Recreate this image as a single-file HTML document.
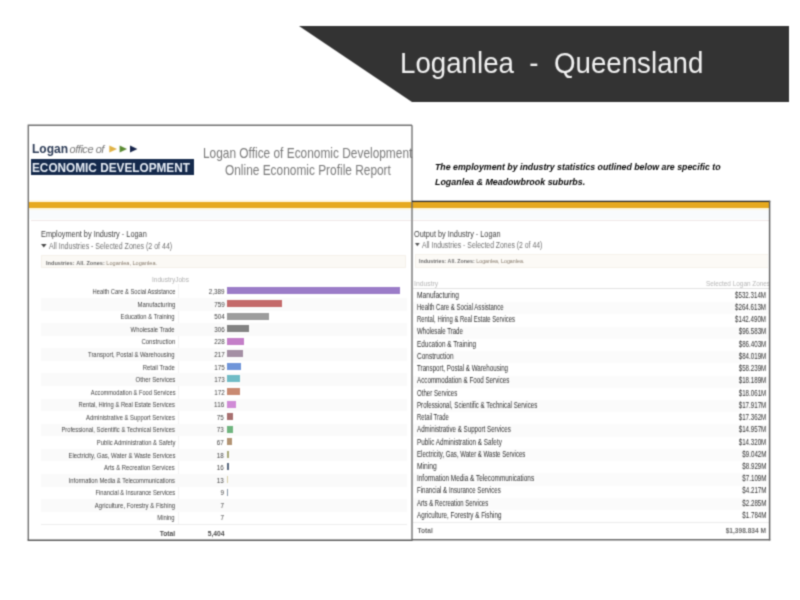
<!DOCTYPE html><html><head><meta charset="utf-8"><title>Loganlea - Queensland</title><style>
*{margin:0;padding:0;box-sizing:border-box}
html,body{width:800px;height:600px;overflow:hidden;background:#fff}
body{position:relative;font-family:"Liberation Sans", sans-serif}
#w{position:absolute;left:0;top:0;width:800px;height:600px;background:#fff;filter:url(#bl)}
.a{position:absolute;white-space:pre;line-height:1}
.r{text-align:right}
.ll{font-size:7px;color:#3f3f3f;transform-origin:100% 50%}
.ln{font-size:7px;color:#404040;transform:scaleX(0.9);transform-origin:100% 50%}
.rl{font-size:8.6px;color:#2c2c2c;transform-origin:0 50%}
.rv{font-size:8.6px;color:#2e2e2e;transform-origin:100% 50%}
</style></head><body><svg width="0" height="0" style="position:absolute"><filter id="bl" x="0" y="0" width="100%" height="100%" color-interpolation-filters="sRGB"><feConvolveMatrix order="3" kernelMatrix="0.09 0.3 0.09 0.3 1 0.3 0.09 0.3 0.09" edgeMode="duplicate" preserveAlpha="true"/></filter></svg><div id="w">
<svg class="a" style="left:0;top:0" width="800" height="600" viewBox="0 0 800 600"><polygon points="299,26 789,26 789,102 412,102" fill="#333333"/></svg>
<div class="a" style="left:400px;top:48.8px;font-size:29px;color:#f2f2f2;transform:scaleX(0.955);transform-origin:0 0">Loganlea  -  Queensland</div>
<div class="a" style="left:32px;top:142.5px;font-size:12px;font-weight:bold;color:#2b3a55">Logan</div>
<div class="a" style="left:69.5px;top:143.5px;font-size:11px;font-style:italic;color:#7a7a7a;letter-spacing:-0.45px">office of</div>
<svg class="a" style="left:105px;top:143px" width="40" height="12" viewBox="0 0 40 12"><polygon points="4.3,2.6 12,6 4.3,9.4" fill="#e0b245"/><polygon points="14.6,2.6 22,6 14.6,9.4" fill="#5a8a32"/><polygon points="25,2.6 32.4,6 25,9.4" fill="#16244a"/></svg>
<div class="a" style="left:30.5px;top:158.8px;width:163px;height:16.6px;background:#152a4c"></div>
<div class="a" style="left:32px;top:161.8px;font-size:12.4px;font-weight:bold;color:#e8eef6;transform:scaleX(0.952);transform-origin:0 0">ECONOMIC DEVELOPMENT</div>
<div class="a" style="left:203px;top:146px;font-size:14.5px;color:#7a7a7a;transform:scaleX(0.82);transform-origin:0 0">Logan Office of Economic Development</div>
<div class="a" style="left:225px;top:163.3px;font-size:14.5px;color:#7a7a7a;transform:scaleX(0.82);transform-origin:0 0">Online Economic Profile Report</div>
<div class="a" style="left:434.6px;top:162.4px;font-size:9.5px;font-weight:bold;font-style:italic;color:#050505;transform:scaleX(0.925);transform-origin:0 0">The employment by industry statistics outlined below are specific to</div>
<div class="a" style="left:434.6px;top:177.3px;font-size:9.5px;font-weight:bold;font-style:italic;color:#050505;transform:scaleX(0.936);transform-origin:0 0">Loganlea &amp; Meadowbrook suburbs.</div>
<div class="a" style="left:29px;top:202px;width:740.5px;height:6px;background:#e6a91f"></div>
<div class="a" style="left:29px;top:208px;width:740.5px;height:2px;background:#fdf6dd"></div>
<div class="a" style="left:31px;top:219.8px;width:380px;height:1px;background:#efe7e7"></div>
<div class="a" style="left:29px;top:210px;width:740px;height:9px;background:#f9fbfd"></div>
<div class="a" style="left:29px;top:199.5px;width:383px;height:2.5px;background:#fff8e4"></div>
<div class="a" style="left:413px;top:219.8px;width:356px;height:1px;background:#efe7e7"></div>
<div class="a" style="left:40.5px;top:229.2px;font-size:9.7px;color:#404040;transform:scaleX(0.758);transform-origin:0 0">Employment by Industry - Logan</div>
<svg class="a" style="left:41.4px;top:244px" width="6" height="5"><polygon points="0,0 5.6,0 2.8,3.6" fill="#4a4a4a"/></svg>
<div class="a" style="left:48.5px;top:241.8px;font-size:9px;color:#707070;transform:scaleX(0.779);transform-origin:0 0">All Industries - Selected Zones (2 of 44)</div>
<div class="a" style="left:40.5px;top:254.5px;width:365px;height:13.8px;background:#fbf9f5;border:1px solid #f5f1ea"></div>
<div class="a" style="left:45.5px;top:261.1px;font-size:5.8px;color:#85796a;transform:scaleX(0.965);transform-origin:0 0"><b style="color:#6a6a6a">Industries:</b> <b style="color:#767676">All.</b> <b style="color:#6a6a6a">Zones:</b> Loganlea, Loganlea.</div>
<div class="a" style="left:151.7px;top:275.8px;font-size:7px;color:#b0b0b0;transform:scaleX(0.93);transform-origin:0 0">IndustryJobs</div>
<div class="a" style="left:177.5px;top:284px;width:1px;height:240px;background:#f3f3f3"></div>
<div class="a" style="left:40.5px;top:298.02px;width:366px;height:12.5px;background:#fafafa"></div>
<div class="a" style="left:40.5px;top:323.16px;width:366px;height:12.5px;background:#fafafa"></div>
<div class="a" style="left:40.5px;top:348.30px;width:366px;height:12.5px;background:#fafafa"></div>
<div class="a" style="left:40.5px;top:373.44px;width:366px;height:12.5px;background:#fafafa"></div>
<div class="a" style="left:40.5px;top:398.58px;width:366px;height:12.5px;background:#fafafa"></div>
<div class="a" style="left:40.5px;top:423.72px;width:366px;height:12.5px;background:#fafafa"></div>
<div class="a" style="left:40.5px;top:448.86px;width:366px;height:12.5px;background:#fafafa"></div>
<div class="a" style="left:40.5px;top:474.00px;width:366px;height:12.5px;background:#fafafa"></div>
<div class="a" style="left:40.5px;top:499.14px;width:366px;height:12.5px;background:#fafafa"></div>
<div class="a r ll" style="right:625px;top:288.15px;transform:scaleX(0.825)">Health Care &amp; Social Assistance</div>
<div class="a r ln" style="right:575.8px;top:288.15px">2,389</div>
<div class="a" style="left:227.3px;top:287.45px;width:172.8px;height:7px;background:#9b7cc8"></div>
<div class="a r ll" style="right:625px;top:300.72px;transform:scaleX(0.852)">Manufacturing</div>
<div class="a r ln" style="right:575.8px;top:300.72px">759</div>
<div class="a" style="left:227.3px;top:300.02px;width:55px;height:7px;background:#c46a6a"></div>
<div class="a r ll" style="right:625px;top:313.29px;transform:scaleX(0.837)">Education &amp; Training</div>
<div class="a r ln" style="right:575.8px;top:313.29px">504</div>
<div class="a" style="left:227.3px;top:312.59px;width:41.5px;height:7px;background:#9d9d9d"></div>
<div class="a r ll" style="right:625px;top:325.86px;transform:scaleX(0.836)">Wholesale Trade</div>
<div class="a r ln" style="right:575.8px;top:325.86px">306</div>
<div class="a" style="left:227.3px;top:325.16px;width:22px;height:7px;background:#838383"></div>
<div class="a r ll" style="right:625px;top:338.43px;transform:scaleX(0.863)">Construction</div>
<div class="a r ln" style="right:575.8px;top:338.43px">228</div>
<div class="a" style="left:227.3px;top:337.73px;width:16.8px;height:7px;background:#c47fc8"></div>
<div class="a r ll" style="right:625px;top:351.00px;transform:scaleX(0.844)">Transport, Postal &amp; Warehousing</div>
<div class="a r ln" style="right:575.8px;top:351.00px">217</div>
<div class="a" style="left:227.3px;top:350.30px;width:15.5px;height:7px;background:#a48fa4"></div>
<div class="a r ll" style="right:625px;top:363.57px;transform:scaleX(0.848)">Retail Trade</div>
<div class="a r ln" style="right:575.8px;top:363.57px">175</div>
<div class="a" style="left:227.3px;top:362.87px;width:13.4px;height:7px;background:#6f95d9"></div>
<div class="a r ll" style="right:625px;top:376.14px;transform:scaleX(0.858)">Other Services</div>
<div class="a r ln" style="right:575.8px;top:376.14px">173</div>
<div class="a" style="left:227.3px;top:375.44px;width:12.8px;height:7px;background:#70bcc6"></div>
<div class="a r ll" style="right:625px;top:388.71px;transform:scaleX(0.818)">Accommodation &amp; Food Services</div>
<div class="a r ln" style="right:575.8px;top:388.71px">172</div>
<div class="a" style="left:227.3px;top:388.01px;width:12.8px;height:7px;background:#c98a72"></div>
<div class="a r ll" style="right:625px;top:401.28px;transform:scaleX(0.832)">Rental, Hiring &amp; Real Estate Services</div>
<div class="a r ln" style="right:575.8px;top:401.28px">116</div>
<div class="a" style="left:227.3px;top:400.58px;width:8.6px;height:7px;background:#d08bd6"></div>
<div class="a r ll" style="right:625px;top:413.85px;transform:scaleX(0.839)">Administrative &amp; Support Services</div>
<div class="a r ln" style="right:575.8px;top:413.85px">75</div>
<div class="a" style="left:227.3px;top:413.15px;width:5.6px;height:7px;background:#a87070"></div>
<div class="a r ll" style="right:625px;top:426.42px;transform:scaleX(0.829)">Professional, Scientific &amp; Technical Services</div>
<div class="a r ln" style="right:575.8px;top:426.42px">73</div>
<div class="a" style="left:227.3px;top:425.72px;width:5.5px;height:7px;background:#6fb57f"></div>
<div class="a r ll" style="right:625px;top:438.99px;transform:scaleX(0.842)">Public Administration &amp; Safety</div>
<div class="a r ln" style="right:575.8px;top:438.99px">67</div>
<div class="a" style="left:227.3px;top:438.29px;width:5.0px;height:7px;background:#b39474"></div>
<div class="a r ll" style="right:625px;top:451.56px;transform:scaleX(0.853)">Electricity, Gas, Water &amp; Waste Services</div>
<div class="a r ln" style="right:575.8px;top:451.56px">18</div>
<div class="a" style="left:227.3px;top:450.86px;width:1.4px;height:7px;background:#a8a878"></div>
<div class="a r ll" style="right:625px;top:464.13px;transform:scaleX(0.844)">Arts &amp; Recreation Services</div>
<div class="a r ln" style="right:575.8px;top:464.13px">16</div>
<div class="a" style="left:227.3px;top:463.43px;width:1.3px;height:7px;background:#5a6a80"></div>
<div class="a r ll" style="right:625px;top:476.70px;transform:scaleX(0.83)">Information Media &amp; Telecommunications</div>
<div class="a r ln" style="right:575.8px;top:476.70px">13</div>
<div class="a" style="left:227.3px;top:476.00px;width:1.0px;height:7px;background:#d8d0a8"></div>
<div class="a r ll" style="right:625px;top:489.27px;transform:scaleX(0.828)">Financial &amp; Insurance Services</div>
<div class="a r ln" style="right:575.8px;top:489.27px">9</div>
<div class="a" style="left:227.3px;top:488.57px;width:1.0px;height:7px;background:#8899aa"></div>
<div class="a r ll" style="right:625px;top:501.84px;transform:scaleX(0.853)">Agriculture, Forestry &amp; Fishing</div>
<div class="a r ln" style="right:575.8px;top:501.84px">7</div>
<div class="a r ll" style="right:625px;top:514.41px;transform:scaleX(0.844)">Mining</div>
<div class="a r ln" style="right:575.8px;top:514.41px">7</div>
<div class="a" style="left:40.5px;top:523.5px;width:366px;height:1px;background:#ededed"></div>
<div class="a r ll" style="right:625.2px;top:529.70px;font-weight:bold;color:#4a4a4a;transform:scaleX(0.96)">Total</div>
<div class="a r ln" style="right:575.8px;top:529.70px;font-weight:bold;color:#4a4a4a;transform:scaleX(0.96)">5,404</div>
<div class="a" style="left:414px;top:230px;font-size:9px;color:#404040;transform:scaleX(0.813);transform-origin:0 0">Output by Industry - Logan</div>
<svg class="a" style="left:414.6px;top:242.8px" width="6" height="5"><polygon points="0,0 4.7,0 2.35,3.2" fill="#555"/></svg>
<div class="a" style="left:421.5px;top:241px;font-size:8.5px;color:#707070;transform:scaleX(0.806);transform-origin:0 0">All Industries - Selected Zones (2 of 44)</div>
<div class="a" style="left:415px;top:254px;width:353px;height:14px;background:#fcfaf6;border:1px solid #f6f2ec;border-right:none"></div>
<div class="a" style="left:419.3px;top:259px;font-size:5.8px;color:#85796a;transform:scaleX(0.915);transform-origin:0 0"><b style="color:#6a6a6a">Industries:</b> <b style="color:#767676">All.</b> <b style="color:#6a6a6a">Zones:</b> Loganlea, Loganlea.</div>
<div class="a" style="left:414px;top:280px;font-size:8px;color:#b5b5b5;transform:scaleX(0.85);transform-origin:0 0">Industry</div>
<div class="a r" style="right:30px;top:280px;font-size:8px;color:#b5b5b5;transform:scaleX(0.80);transform-origin:100% 0">Selected Logan Zones</div>
<div class="a" style="left:413px;top:288px;width:356px;height:1px;background:#e2e2e2"></div>
<div class="a" style="left:413px;top:302.13px;width:356px;height:12.2px;background:#fbfbfb"></div>
<div class="a" style="left:413px;top:326.59px;width:356px;height:12.2px;background:#fbfbfb"></div>
<div class="a" style="left:413px;top:351.05px;width:356px;height:12.2px;background:#fbfbfb"></div>
<div class="a" style="left:413px;top:375.51px;width:356px;height:12.2px;background:#fbfbfb"></div>
<div class="a" style="left:413px;top:399.97px;width:356px;height:12.2px;background:#fbfbfb"></div>
<div class="a" style="left:413px;top:424.43px;width:356px;height:12.2px;background:#fbfbfb"></div>
<div class="a" style="left:413px;top:448.89px;width:356px;height:12.2px;background:#fbfbfb"></div>
<div class="a" style="left:413px;top:473.35px;width:356px;height:12.2px;background:#fbfbfb"></div>
<div class="a" style="left:413px;top:497.81px;width:356px;height:12.2px;background:#fbfbfb"></div>
<div class="a rl" style="left:417.3px;top:290.80px;transform:scaleX(0.771)">Manufacturing</div>
<div class="a r rv" style="right:33.60000000000002px;top:290.80px;transform:scaleX(0.72)">$532.314M</div>
<div class="a rl" style="left:417.3px;top:303.03px;transform:scaleX(0.702)">Health Care &amp; Social Assistance</div>
<div class="a r rv" style="right:33.60000000000002px;top:303.03px;transform:scaleX(0.72)">$264.613M</div>
<div class="a rl" style="left:417.3px;top:315.26px;transform:scaleX(0.688)">Rental, Hiring &amp; Real Estate Services</div>
<div class="a r rv" style="right:33.60000000000002px;top:315.26px;transform:scaleX(0.72)">$142.490M</div>
<div class="a rl" style="left:417.3px;top:327.49px;transform:scaleX(0.712)">Wholesale Trade</div>
<div class="a r rv" style="right:33.60000000000002px;top:327.49px;transform:scaleX(0.72)">$96.583M</div>
<div class="a rl" style="left:417.3px;top:339.72px;transform:scaleX(0.745)">Education &amp; Training</div>
<div class="a r rv" style="right:33.60000000000002px;top:339.72px;transform:scaleX(0.72)">$86.403M</div>
<div class="a rl" style="left:417.3px;top:351.95px;transform:scaleX(0.758)">Construction</div>
<div class="a r rv" style="right:33.60000000000002px;top:351.95px;transform:scaleX(0.72)">$84.019M</div>
<div class="a rl" style="left:417.3px;top:364.18px;transform:scaleX(0.723)">Transport, Postal &amp; Warehousing</div>
<div class="a r rv" style="right:33.60000000000002px;top:364.18px;transform:scaleX(0.72)">$58.239M</div>
<div class="a rl" style="left:417.3px;top:376.41px;transform:scaleX(0.727)">Accommodation &amp; Food Services</div>
<div class="a r rv" style="right:33.60000000000002px;top:376.41px;transform:scaleX(0.72)">$18.189M</div>
<div class="a rl" style="left:417.3px;top:388.64px;transform:scaleX(0.709)">Other Services</div>
<div class="a r rv" style="right:33.60000000000002px;top:388.64px;transform:scaleX(0.72)">$18.061M</div>
<div class="a rl" style="left:417.3px;top:400.87px;transform:scaleX(0.716)">Professional, Scientific &amp; Technical Services</div>
<div class="a r rv" style="right:33.60000000000002px;top:400.87px;transform:scaleX(0.72)">$17.917M</div>
<div class="a rl" style="left:417.3px;top:413.10px;transform:scaleX(0.686)">Retail Trade</div>
<div class="a r rv" style="right:33.60000000000002px;top:413.10px;transform:scaleX(0.72)">$17.362M</div>
<div class="a rl" style="left:417.3px;top:425.33px;transform:scaleX(0.722)">Administrative &amp; Support Services</div>
<div class="a r rv" style="right:33.60000000000002px;top:425.33px;transform:scaleX(0.72)">$14.957M</div>
<div class="a rl" style="left:417.3px;top:437.56px;transform:scaleX(0.74)">Public Administration &amp; Safety</div>
<div class="a r rv" style="right:33.60000000000002px;top:437.56px;transform:scaleX(0.72)">$14.320M</div>
<div class="a rl" style="left:417.3px;top:449.79px;transform:scaleX(0.704)">Electricity, Gas, Water &amp; Waste Services</div>
<div class="a r rv" style="right:33.60000000000002px;top:449.79px;transform:scaleX(0.72)">$9.042M</div>
<div class="a rl" style="left:417.3px;top:462.02px;transform:scaleX(0.782)">Mining</div>
<div class="a r rv" style="right:33.60000000000002px;top:462.02px;transform:scaleX(0.72)">$8.929M</div>
<div class="a rl" style="left:417.3px;top:474.25px;transform:scaleX(0.746)">Information Media &amp; Telecommunications</div>
<div class="a r rv" style="right:33.60000000000002px;top:474.25px;transform:scaleX(0.72)">$7.109M</div>
<div class="a rl" style="left:417.3px;top:486.48px;transform:scaleX(0.71)">Financial &amp; Insurance Services</div>
<div class="a r rv" style="right:33.60000000000002px;top:486.48px;transform:scaleX(0.72)">$4.217M</div>
<div class="a rl" style="left:417.3px;top:498.71px;transform:scaleX(0.693)">Arts &amp; Recreation Services</div>
<div class="a r rv" style="right:33.60000000000002px;top:498.71px;transform:scaleX(0.72)">$2.285M</div>
<div class="a rl" style="left:417.3px;top:510.94px;transform:scaleX(0.73)">Agriculture, Forestry &amp; Fishing</div>
<div class="a r rv" style="right:33.60000000000002px;top:510.94px;transform:scaleX(0.72)">$1.784M</div>
<div class="a" style="left:413px;top:522.3px;width:356px;height:1px;background:#ebebeb"></div>
<div class="a" style="left:417.5px;top:528.30px;font-size:6.6px;font-weight:bold;color:#6a6a6a">Total</div>
<div class="a r" style="right:34px;top:528.30px;font-size:6.6px;font-weight:bold;color:#6a6a6a">$1,398.834 M</div>
<svg class="a" style="left:0;top:0" width="800" height="600" viewBox="0 0 800 600" fill="none"><path d="M28.3 540.2V125.3H412" stroke="#707070" stroke-width="1.4"/><path d="M412 125.3V540.2" stroke="#686868" stroke-width="1.3"/><path d="M27.6 540.2H412.6" stroke="#5a5a5a" stroke-width="1.4"/><path d="M412 201.3H770.2" stroke="#262626" stroke-width="1.2"/><path d="M769.6 200.8V540.4" stroke="#5c5c5c" stroke-width="1.4"/><path d="M412 539.8H770.3" stroke="#6a6a6a" stroke-width="1.4"/></svg>
</div></body></html>
